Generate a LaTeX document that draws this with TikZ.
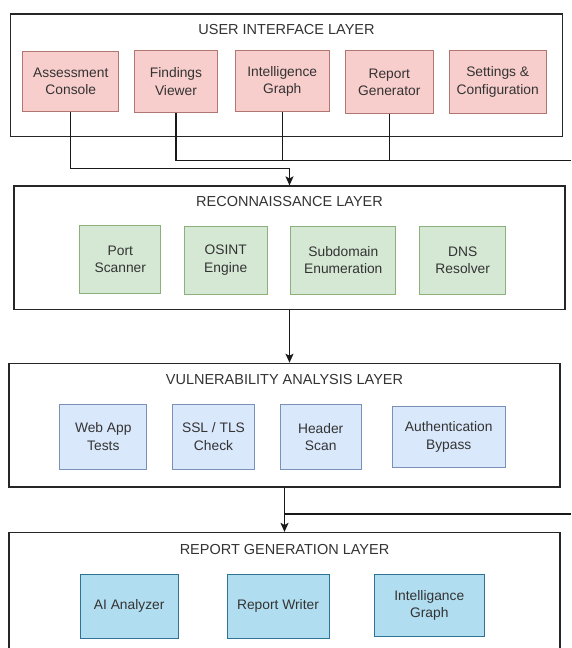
\documentclass[tikz,border=0pt]{standalone}
\usepackage{fontspec}
\setmainfont{Liberation Sans}
\usetikzlibrary{arrows.meta}
\definecolor{txt}{HTML}{333333}
\definecolor{pinkf}{HTML}{F8CECC}\definecolor{pinkd}{HTML}{B07672}
\definecolor{greenf}{HTML}{D5E8D4}\definecolor{greend}{HTML}{8DAF7C}
\definecolor{bluef}{HTML}{DAE8FC}\definecolor{blued}{HTML}{7990B8}
\definecolor{cyanf}{HTML}{B1DDF0}\definecolor{cyand}{HTML}{2F7394}
\begin{document}
\begin{tikzpicture}[x=1pt,y=-1pt,
  layer/.style={draw=black!85,line width=1.2pt,fill=white,inner sep=0pt},
  ltitle/.style={text=txt,font=\fontsize{14.5}{17}\selectfont,inner sep=0pt},
  comp/.style={line width=1pt,align=center,text=txt,inner sep=0pt,
    font=\fontsize{13.8}{17.3}\selectfont},
  pinkbox/.style={comp,fill=pinkf,draw=pinkd},
  greenbox/.style={comp,fill=greenf,draw=greend},
  bluebox/.style={comp,fill=bluef,draw=blued},
  cyanbox/.style={comp,fill=cyanf,draw=cyand},
  wire/.style={draw=black!90,line width=1.1pt},
  arr/.style={wire,-{Stealth[length=9pt,width=8pt,inset=2pt]}}]
\clip (0,0) rectangle (571,648);
\fill[white] (0,0) rectangle (571,648);

% layers
\node[layer,minimum width=551.6pt,minimum height=122.7pt] (ui) at (286.5,75.35) {};
\node[layer,minimum width=551pt,minimum height=123.3pt] (recon) at (289.5,247.65) {};
\node[layer,minimum width=551pt,minimum height=123.7pt] (vuln) at (284.5,425.15) {};
\node[layer,minimum width=551pt,minimum height=160pt] (report) at (284.5,612.5) {};

% titles
\node[ltitle] (uit) at (286.5,30) {USER INTERFACE LAYER};
\node[ltitle] (rct) at (289.5,201.7) {RECONNAISSANCE LAYER};
\node[ltitle] (vut) at (284.5,380) {VULNERABILITY ANALYSIS LAYER};
\node[ltitle] (ret) at (284.5,549.3) {REPORT GENERATION LAYER};

% UI components
\node[pinkbox,minimum width=95.7pt,minimum height=60.5pt] (ac) at (70.8,81.5) {Assessment\\Console};
\node[pinkbox,minimum width=83.4pt,minimum height=62pt] (fv) at (176,81.5) {Findings\\Viewer};
\node[pinkbox,minimum width=94.3pt,minimum height=61pt] (ig) at (282.2,81.3) {Intelligence\\Graph};
\node[pinkbox,minimum width=88pt,minimum height=62.6pt] (rg) at (389.3,82) {Report\\Generator};
\node[pinkbox,minimum width=96.7pt,minimum height=63.5pt] (st) at (497.7,82) {Settings \&\\Configuration};

% Recon components
\node[greenbox,minimum width=80.7pt,minimum height=67.6pt] (ps) at (120.3,259.5) {Port\\Scanner};
\node[greenbox,minimum width=83.3pt,minimum height=68pt] (os) at (225.7,260) {OSINT\\Engine};
\node[greenbox,minimum width=105.3pt,minimum height=68pt] (sd) at (343.3,260) {Subdomain\\Enumeration};
\node[greenbox,minimum width=85.5pt,minimum height=68pt] (dn) at (462.7,260) {DNS\\Resolver};

% Vulnerability components
\node[bluebox,minimum width=86.7pt,minimum height=65pt] (wa) at (103.3,436.5) {Web App\\Tests};
\node[bluebox,minimum width=81.6pt,minimum height=65pt] (ssl) at (213.5,436.5) {SSL / TLS\\Check};
\node[bluebox,minimum width=80.6pt,minimum height=64.3pt] (hs) at (320.7,437) {Header\\Scan};
\node[bluebox,minimum width=113.3pt,minimum height=60.6pt] (ab) at (448.7,437) {Authentication\\Bypass};

% Report components
\node[cyanbox,minimum width=98.4pt,minimum height=64pt] (ai) at (129.2,606.3) {AI Analyzer};
\node[cyanbox,minimum width=102pt,minimum height=64pt] (rw) at (278,606.3) {Report Writer};
\node[cyanbox,minimum width=110pt,minimum height=62.4pt] (ig2) at (429.3,605.5) {Intelligance\\Graph};

% connectors
\coordinate (bus) at (571,160.5);
\coordinate (bus2) at (571,514);
\draw[arr] (ac.south) |- ([yshift=17pt]recon.north) -- (recon.north);
\draw[wire] (fv.south) |- (bus);
\draw[wire] (ig.south) -- (ig.south |- bus);
\draw[wire] (rg.south) -- (rg.south |- bus);
\draw[arr] (recon.south) -- (recon.south |- vuln.north);
\draw[arr] (vuln.south) -- (report.north);
\draw[wire] (vuln.south |- bus2) -- (bus2);
\end{tikzpicture}
\end{document}
